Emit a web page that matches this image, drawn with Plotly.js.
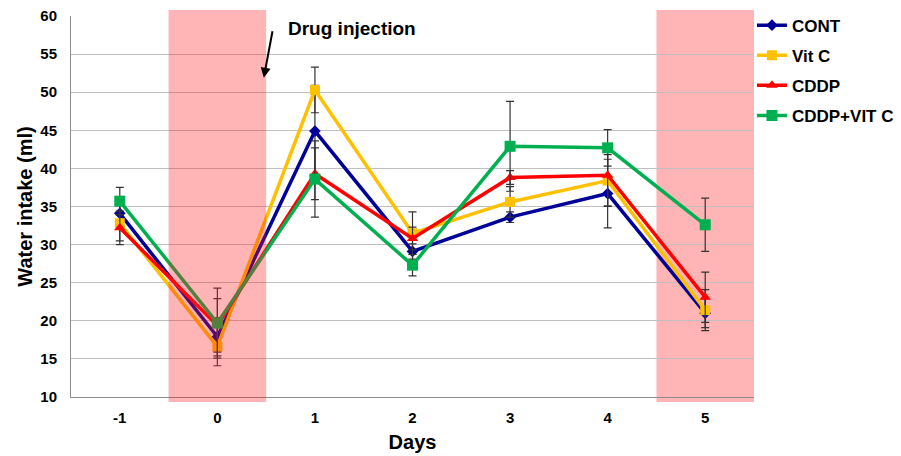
<!DOCTYPE html>
<html>
<head>
<meta charset="utf-8">
<script src="https://cdn.plot.ly/plotly-3.0.1.min.js"></script>
<style>
  html, body { margin: 0; padding: 0; background: #ffffff; }
  #chart { width: 901px; height: 456px; }
</style>
</head>
<body>
<div id="chart"></div>
<script>
// Days relative to the drug injection
const days = [-1, 0, 1, 2, 3, 4, 5];
const dayLabels = ['-1', '0', '1', '2', '3', '4', '5'];

// Mean water intake (ml) per group
const cont     = [34.1, 17.9, 44.9, 29.1, 33.6, 36.7, 21.0];
const vitC     = [32.8, 16.6, 50.3, 31.5, 35.6, 38.4, 21.4];
const cddp     = [32.2, 19.4, 39.3, 30.8, 38.8, 39.1, 23.1];
const cddpVitC = [35.7, 19.7, 38.6, 27.3, 42.9, 42.7, 32.6];

// Error (± ml) per group
const contErr     = [1.5, 2.5, 6.0, 1.0, 0.7, 4.5, 1.9];
const vitCErr     = [2.3, 2.5, 3.0, 2.8, 2.0, 3.4, 2.7];
const cddpErr     = [2.2, 3.5, 3.4, 1.5, 0.9, 4.0, 3.3];
const cddpVitCErr = [1.8, 4.6, 5.0, 1.4, 5.9, 2.4, 3.5];

// Days highlighted with a shaded band; the injection day band sits over the lines
const shadedDays = [0, 5];
const shadedLayers = ['above', 'below'];

const FONT = 'Liberation Sans, Arial, sans-serif';

function series(name, y, err, color, symbol, size) {
  return {
    type: 'scatter',
    mode: 'lines+markers',
    name: name,
    legendgroup: name,
    x: days,
    y: y,
    line: { color: color, width: 3.5 },
    marker: { color: color, symbol: symbol, size: size },
    error_y: {
      type: 'data', array: err, visible: true,
      color: '#333333', thickness: 1.2, width: 4
    }
  };
}

const traces = [
  series('CONT', cont, contErr, '#000099', 'diamond', 9),
  series('Vit C', vitC, vitCErr, '#FFC000', 'square', 10),
  series('CDDP', cddp, cddpErr, '#FF0000', 'triangle-up', 10),
  series('CDDP+VIT C', cddpVitC, cddpVitCErr, '#00B050', 'square', 11)
];

const shapes = shadedDays.map((d, i) => ({
  type: 'rect', xref: 'x', yref: 'paper',
  x0: d - 0.5, x1: d + 0.5, y0: -0.013, y1: 1.016,
  fillcolor: 'rgba(255,27,30,0.33)', line: { width: 0 }, layer: shadedLayers[i]
}));

const layout = {
  width: 901, height: 456,
  margin: { l: 71, r: 147, t: 16, b: 59, autoexpand: false },
  paper_bgcolor: '#ffffff', plot_bgcolor: '#ffffff',
  font: { family: FONT, color: '#000000' },
  showlegend: true,
  legend: {
    x: 0.997, xanchor: 'left', y: 1.022, yanchor: 'top',
    font: { family: FONT, size: 17, weight: 'bold', color: '#000000' },
    tracegroupgap: 5, bgcolor: 'rgba(0,0,0,0)'
  },
  xaxis: {
    range: [-1.5, 5.5],
    tickmode: 'array', tickvals: days, ticktext: dayLabels,
    showgrid: false, zeroline: false,
    showline: true, linecolor: '#8c8c8c', linewidth: 1,
    ticks: '', ticklabelstandoff: 7,
    tickfont: { family: FONT, size: 15, weight: 'bold' },
    title: { text: 'Days', font: { family: FONT, size: 20, weight: 'bold' }, standoff: 9 },
    automargin: false
  },
  yaxis: {
    range: [10, 60],
    tickmode: 'linear', tick0: 10, dtick: 5,
    showgrid: true, gridcolor: '#c0c0c0', gridwidth: 1,
    zeroline: false,
    showline: true, linecolor: '#8c8c8c', linewidth: 1,
    ticks: '', ticklabelstandoff: 10,
    tickfont: { family: FONT, size: 15, weight: 'bold' },
    title: { text: 'Water intake (ml)', font: { family: FONT, size: 20, weight: 'bold' }, standoff: 2 },
    automargin: false
  },
  shapes: shapes,
  annotations: [
    {
      xref: 'x', yref: 'y', x: 1.378, y: 58.4,
      text: 'Drug injection', showarrow: false,
      font: { family: FONT, size: 19, weight: 'bold', color: '#000000' }
    },
    {
      xref: 'x', yref: 'y', x: 0.476, y: 51.9,
      axref: 'x', ayref: 'y', ax: 0.568, ay: 58.2,
      text: '', showarrow: true,
      arrowhead: 2, arrowsize: 1, arrowwidth: 2, arrowcolor: '#000000'
    }
  ]
};

Plotly.newPlot('chart', traces, layout, { staticPlot: true, displayModeBar: false });
</script>
</body>
</html>
